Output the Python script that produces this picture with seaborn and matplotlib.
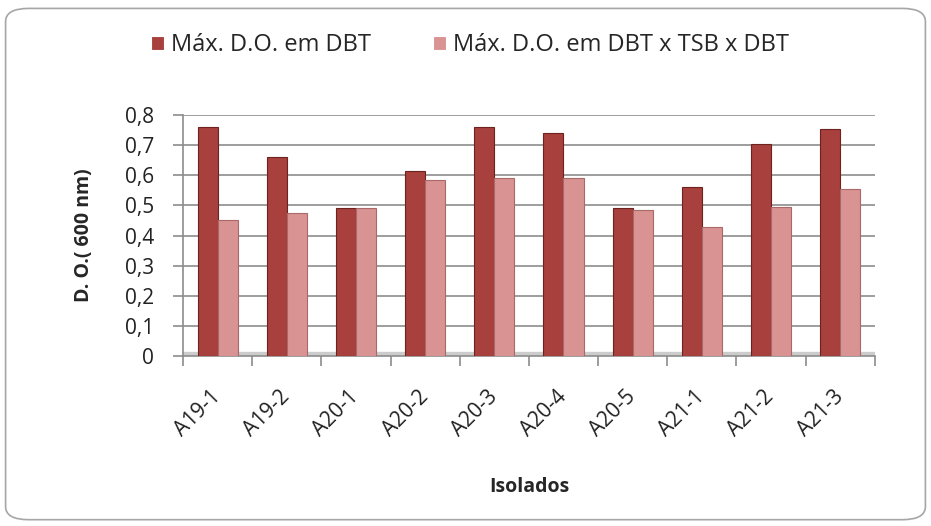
import numpy as np
import pandas as pd
import matplotlib
matplotlib.use('Agg')
import matplotlib.pyplot as plt
import seaborn as sns
from matplotlib.patches import FancyBboxPatch

# dados
isolados = ['A19-1', 'A19-2', 'A20-1', 'A20-2', 'A20-3',
            'A20-4', 'A20-5', 'A21-1', 'A21-2', 'A21-3']
do_dbt = [0.76, 0.66, 0.49, 0.615, 0.76, 0.74, 0.49, 0.56, 0.705, 0.755]
do_dbt_tsb = [0.45, 0.475, 0.49, 0.585, 0.59, 0.59, 0.485, 0.43, 0.495, 0.555]
series = ['Máx. D.O. em DBT', 'Máx. D.O. em DBT x TSB x DBT']
yticks = [0, 0.1, 0.2, 0.3, 0.4, 0.5, 0.6, 0.7, 0.8]

sns.set_theme(style='white')
plt.rcParams['font.family'] = ['Open Sans', 'DejaVu Sans']

df = pd.DataFrame({
    'Isolados': isolados * 2,
    'DO': do_dbt + do_dbt_tsb,
    'Serie': [series[0]] * len(isolados) + [series[1]] * len(isolados),
})

fig = plt.figure(figsize=(9.31, 5.26), dpi=100)
ax = fig.add_axes([0.1966, 0.3232, 0.743, 0.458])

cores = ['#A8403D', '#D99392']
sns.barplot(data=df, x='Isolados', y='DO', hue='Serie', palette=cores,
            width=0.58, gap=0, linewidth=0.8,
            saturation=1, ax=ax, legend=True, zorder=3)
for cont, ec in zip(ax.containers, ['#6e2220', '#a86968']):
    for b in cont:
        b.set_edgecolor(ec)

# "piso" cinza do grafico 3D
ax.axhspan(0, 0.012, color='#cccccc', zorder=2)

ax.set_ylim(0, 0.8)
ax.set_xlim(-0.5, len(isolados) - 0.5)
ax.set_yticks(yticks)
ax.set_yticklabels([('%g' % t).replace('.', ',') for t in yticks], fontsize=15, color='#222222')
ax.yaxis.grid(True, color='#8c8c8c', linewidth=1.2)
ax.set_axisbelow(True)

ax.set_xticks(range(len(isolados)))
ax.set_xticklabels(isolados, rotation=45, ha='right', va='center', rotation_mode='anchor',
                   fontsize=15, color='#222222')
ax.set_xticks(np.arange(-0.5, len(isolados)), minor=True)
ax.tick_params(axis='x', which='major', length=0, pad=27)
ax.tick_params(axis='x', which='minor', length=7, color='#8c8c8c', width=1.2, bottom=True)
ax.tick_params(axis='y', length=7, color='#8c8c8c', width=1.2, left=True, pad=14)

for s in ['top', 'right']:
    ax.spines[s].set_visible(False)
for s in ['left', 'bottom']:
    ax.spines[s].set_color('#8c8c8c')
    ax.spines[s].set_linewidth(1.2)

ax.set_xlabel('Isolados', fontsize=14, fontweight='bold', labelpad=26)
ax.set_ylabel('D. O.( 600 nm)', fontsize=14, fontweight='bold', labelpad=22)

h, l = ax.get_legend_handles_labels()
ax.legend_.remove()
fig.legend(h, l, loc='center', bbox_to_anchor=(0.505, 0.914), ncol=2, frameon=False,
           fontsize=17, handlelength=0.55, handleheight=0.55, columnspacing=2.6,
           handletextpad=0.3)

borda = FancyBboxPatch((0.006, 0.012), 0.988, 0.972, boxstyle='round,pad=0,rounding_size=0.025',
                       transform=fig.transFigure, facecolor='none', edgecolor='#a6a6a6',
                       linewidth=1.2)
fig.patches.append(borda)

fig.savefig('out.png', dpi=100)
